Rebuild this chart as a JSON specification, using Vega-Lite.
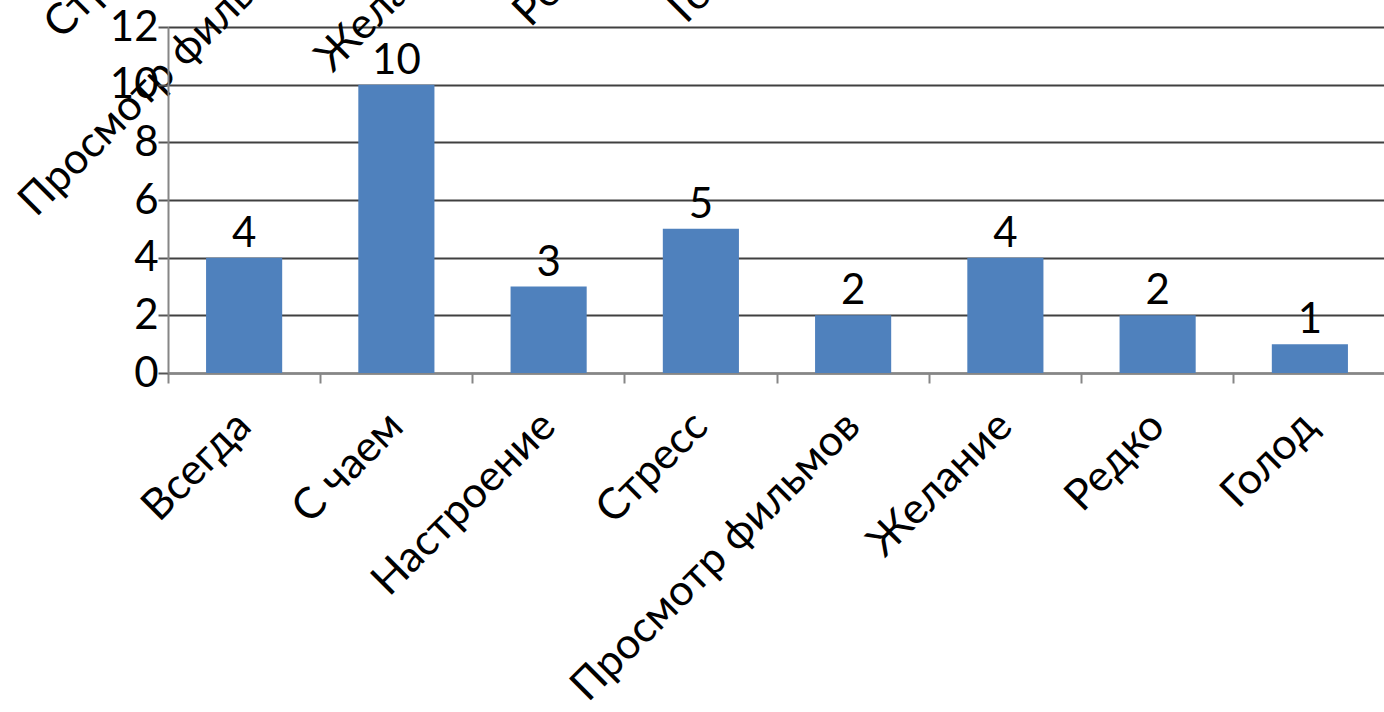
{
  "$schema": "https://vega.github.io/schema/vega-lite/v6.json",
  "width": 1218,
  "height": 346,
  "autosize": {"type": "none"},
  "padding": {"left": 168, "top": 27, "right": 0, "bottom": 339},
  "background": "white",
  "config": {"view": {"stroke": null}, "font": "Lato"},
  "data": {
    "values": [
      {"cat": "Всегда", "v": 4},
      {"cat": "С чаем", "v": 10},
      {"cat": "Настроение", "v": 3},
      {"cat": "Стресс", "v": 5},
      {"cat": "Просмотр фильмов", "v": 2},
      {"cat": "Желание", "v": 4},
      {"cat": "Редко", "v": 2},
      {"cat": "Голод", "v": 1}
    ]
  },
  "layer": [
    {
      "mark": {"type": "bar", "color": "#4F81BD", "width": {"band": 0.5}},
      "encoding": {
        "x": {
          "field": "cat",
          "type": "nominal",
          "sort": null,
          "scale": {"paddingInner": 0, "paddingOuter": 0},
          "axis": {
            "title": null,
            "bandPosition": 0,
            "labelOffset": 0,
            "labelAngle": -45,
            "labelAlign": "right",
            "labelBaseline": "middle",
            "labelFontSize": 43,
            "labelFont": "Lato",
            "labelColor": "black",
            "labelPadding": 36,
            "tickSize": 10,
            "tickColor": "#868686",
            "tickWidth": 2,
            "domainColor": "#868686",
            "domainWidth": 2,
            "grid": false,
            "labelOverlap": false,
            "labelLimit": 0
          }
        },
        "y": {
          "field": "v",
          "type": "quantitative",
          "scale": {"domain": [0, 12]},
          "axis": {
            "title": null,
            "values": [0, 2, 4, 6, 8, 10, 12],
            "labelFontSize": 42,
            "labelFont": "Lato",
            "labelColor": "black",
            "labelPadding": 0,
            "tickSize": 10,
            "tickColor": "#555555",
            "tickWidth": 2,
            "domainColor": "#868686",
            "domainWidth": 2,
            "gridColor": "#404040",
            "gridWidth": 2,
            "gridOpacity": 1
          }
        }
      }
    },
    {
      "mark": {"type": "text", "baseline": "alphabetic", "dy": -11, "fontSize": 42, "font": "Lato", "color": "black"},
      "encoding": {
        "x": {
          "field": "cat",
          "type": "nominal",
          "sort": null,
          "axis": {
            "orient": "top",
            "title": null,
            "ticks": false,
            "domain": false,
            "grid": false,
            "labelOffset": -552,
            "labelAngle": -45,
            "labelAlign": "right",
            "labelBaseline": "middle",
            "labelFontSize": 43,
            "labelFont": "Lato",
            "labelColor": "black",
            "labelPadding": 93,
            "labelOverlap": false,
            "labelLimit": 0
          }
        },
        "y": {"field": "v", "type": "quantitative"},
        "text": {"field": "v", "type": "quantitative"}
      }
    }
  ],
  "resolve": {"axis": {"x": "independent"}}
}
